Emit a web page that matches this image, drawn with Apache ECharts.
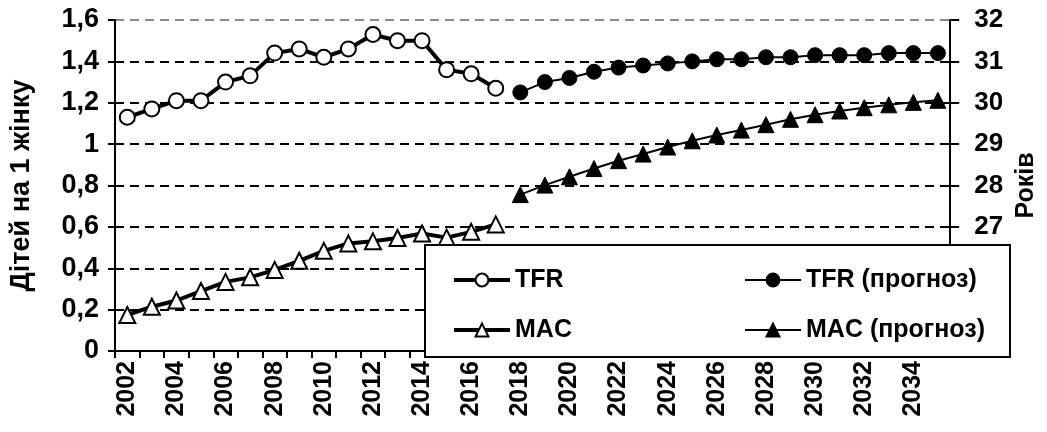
<!DOCTYPE html>
<html>
<head>
<meta charset="utf-8">
<script src="https://cdn.jsdelivr.net/npm/echarts@6/dist/echarts.min.js"></script>
<style>html,body{margin:0;padding:0;background:#fff}#c{width:1047px;height:432px}</style>
</head>
<body>
<div id="c"></div>
<script>
const years = ['2002','2003','2004','2005','2006','2007','2008','2009','2010','2011','2012','2013','2014','2015','2016','2017','2018','2019','2020','2021','2022','2023','2024','2025','2026','2027','2028','2029','2030','2031','2032','2033','2034','2035'];
const tfr = [1.13,1.17,1.21,1.21,1.30,1.33,1.44,1.46,1.42,1.46,1.53,1.50,1.50,1.36,1.34,1.27];
const tfrForecast = [1.25,1.30,1.32,1.35,1.37,1.38,1.39,1.40,1.41,1.41,1.42,1.42,1.43,1.43,1.43,1.44,1.44,1.44];
const mac = [24.87,25.07,25.22,25.45,25.67,25.78,25.96,26.18,26.42,26.60,26.65,26.73,26.84,26.74,26.88,27.06];
const macForecast = [27.78,28.01,28.21,28.41,28.60,28.76,28.93,29.08,29.22,29.34,29.47,29.60,29.71,29.80,29.88,29.95,30.01,30.06];
const leftTicks = {min:0, max:1.6, step:0.2};
const rightTicks = {min:24, max:32, step:1};

const nHist = tfr.length;
const pad = n => new Array(n).fill(null);
const tfrData = tfr.concat(pad(years.length - nHist));
const tfrFData = pad(nHist).concat(tfrForecast);
const macData = mac.concat(pad(years.length - nHist));
const macFData = pad(nHist).concat(macForecast);

const FONT = "'Liberation Sans', Arial, sans-serif";
const txt = {color:'#000', fontWeight:'bold', fontSize:25, fontFamily:FONT};
const txtBig = Object.assign({}, txt, {fontSize:27});

const chart = echarts.init(document.getElementById('c'), null, {renderer:'canvas'});
chart.setOption({
  animation:false,
  backgroundColor:'#fff',
  grid:{left:114, right:83, top:20, bottom:81, containLabel:false},
  xAxis:{
    type:'category', data:years, boundaryGap:true,
    axisLine:{lineStyle:{color:'#000', width:2}},
    axisTick:{show:true, interval:0, length:7, lineStyle:{color:'#000', width:2}},
    axisLabel:Object.assign({interval:1, rotate:90, margin:10}, txt),
    splitLine:{show:false}
  },
  yAxis:[{
    type:'value', min:leftTicks.min, max:leftTicks.max, interval:leftTicks.step,
    name:'Дітей на 1 жінку', nameLocation:'middle', nameGap:80, nameRotate:90,
    nameTextStyle:txtBig,
    axisLine:{show:true, lineStyle:{color:'#000', width:2}},
    axisTick:{show:true, length:7, lineStyle:{color:'#000', width:2}},
    axisLabel:Object.assign({margin:16, formatter:v => (Math.abs(v-Math.round(v))<1e-9 ? String(Math.round(v)) : v.toFixed(1).replace('.',','))}, txtBig),
    splitLine:{show:true, lineStyle:{color:['#000','#000','#000','#000','#000','#000','#000','#000','#888'], width:2, type:[9,6]}}
  },{
    type:'value', min:rightTicks.min, max:rightTicks.max, interval:rightTicks.step, position:'right',
    name:'Років', nameLocation:'middle', nameGap:63, nameRotate:90,
    nameTextStyle:txt,
    axisLine:{show:true, lineStyle:{color:'#000', width:2}},
    axisTick:{show:true, length:9, lineStyle:{color:'#000', width:2}},
    axisLabel:Object.assign({margin:24}, txt, {fontSize:26}),
    splitLine:{show:false}
  }],
  legend:[{
    orient:'vertical', left:447, top:262, itemGap:24, itemWidth:56, itemHeight:16, z:20,
    textStyle:Object.assign({lineHeight:26}, txt),
    data:[{name:'TFR', lineStyle:{width:4}}, {name:'MAC', lineStyle:{width:4}}]
  },{
    orient:'vertical', left:739, top:262, itemGap:24, itemWidth:56, itemHeight:16, z:20,
    textStyle:Object.assign({lineHeight:26}, txt),
    data:[{name:'TFR (прогноз)', lineStyle:{width:2}}, {name:'MAC (прогноз)', lineStyle:{width:2}}]
  }],
  graphic:[{
    type:'rect', z:10, zlevel:0,
    shape:{x:425, y:245, width:585, height:112},
    style:{fill:'#fff', stroke:'#000', lineWidth:2}
  }],
  series:[
    {name:'TFR', type:'line', data:tfrData, yAxisIndex:0, symbol:'circle', symbolSize:15, showAllSymbol:true,
     lineStyle:{color:'#000', width:4}, itemStyle:{color:'#fff', borderColor:'#000', borderWidth:2}, z:5},
    {name:'TFR (прогноз)', type:'line', data:tfrFData, yAxisIndex:0, symbol:'circle', symbolSize:15, showAllSymbol:true,
     lineStyle:{color:'#000', width:2}, itemStyle:{color:'#000', borderColor:'#000', borderWidth:1}, z:5},
    {name:'MAC', type:'line', data:macData, yAxisIndex:1, symbol:'triangle', symbolSize:16, showAllSymbol:true,
     lineStyle:{color:'#000', width:4}, itemStyle:{color:'#fff', borderColor:'#000', borderWidth:2}, z:5},
    {name:'MAC (прогноз)', type:'line', data:macFData, yAxisIndex:1, symbol:'triangle', symbolSize:16, showAllSymbol:true,
     lineStyle:{color:'#000', width:2}, itemStyle:{color:'#000', borderColor:'#000', borderWidth:1}, z:5}
  ]
});
</script>
</body>
</html>
